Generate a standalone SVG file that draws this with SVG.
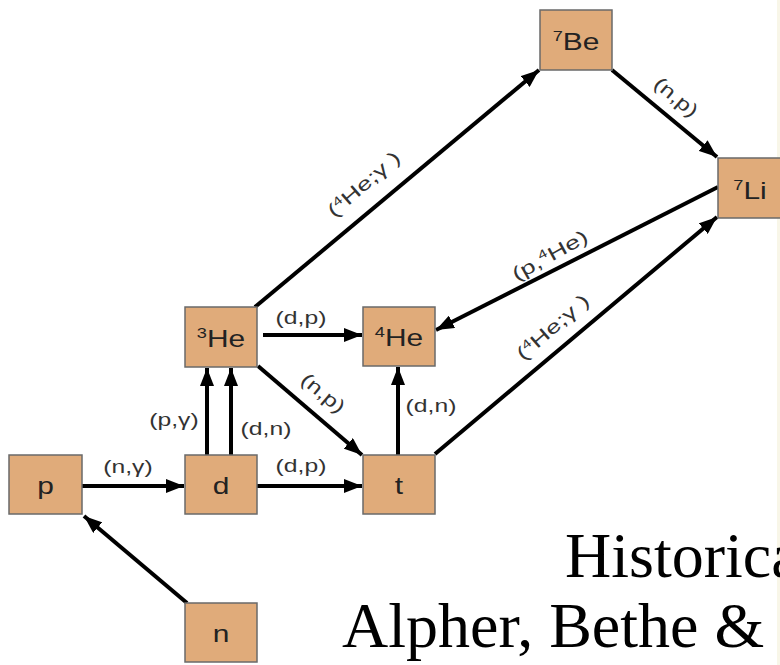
<svg xmlns="http://www.w3.org/2000/svg" width="780" height="665" viewBox="0 0 780 665">
<style>
.box{fill:#E0AB7A;stroke:#6a6a6a;stroke-width:1.5}
.nt{font-family:"Liberation Sans",Arial,sans-serif;font-size:23px;fill:#222;text-anchor:middle}
.sup{font-size:14px}
.lb{font-family:"Liberation Sans",Arial,sans-serif;font-size:19px;fill:#333;text-anchor:middle}
.ls{font-size:12px}
.ed{stroke:#000;stroke-width:4;fill:none;marker-end:url(#ah)}
.big{font-family:"Liberation Serif","Times New Roman",serif;font-size:64px;fill:#000}
</style>
<defs>
<marker id="ah" markerUnits="userSpaceOnUse" viewBox="0 0 18 14" refX="18" refY="7" markerWidth="18" markerHeight="14" orient="auto">
<path d="M0,0 L18,7 L0,14 z" fill="#000"/>
</marker>
</defs>
<rect width="780" height="665" fill="#fff"/>
<rect x="777" y="0" width="3" height="665" fill="#f8f6e8"/>
<g id="connectors">
<line class="ed" x1="82" y1="486" x2="184" y2="486"/>
<line class="ed" x1="187" y1="603" x2="84" y2="516"/>
<line class="ed" x1="257" y1="486" x2="362" y2="486"/>
<line class="ed" x1="207" y1="455" x2="207" y2="368"/>
<line class="ed" x1="231" y1="455" x2="231" y2="368"/>
<line class="ed" x1="263" y1="335" x2="362" y2="335"/>
<line class="ed" x1="258" y1="366" x2="362" y2="455"/>
<line class="ed" x1="398" y1="455" x2="398" y2="367"/>
<line class="ed" x1="255" y1="307" x2="539" y2="70"/>
<line class="ed" x1="612" y1="70" x2="717" y2="157"/>
<line class="ed" x1="718" y1="187" x2="436" y2="330"/>
<line class="ed" x1="435" y1="454" x2="717" y2="217"/>
<text class="lb" transform="translate(128,473) scale(1.3,1)">(n,γ)</text>
<text class="lb" transform="translate(301,472) scale(1.3,1)">(d,p)</text>
<text class="lb" transform="translate(301,324) scale(1.3,1)">(d,p)</text>
<text class="lb" transform="translate(174,426) scale(1.3,1)">(p,γ)</text>
<text class="lb" transform="translate(266,435) scale(1.3,1)">(d,n)</text>
<text class="lb" transform="translate(431,412) scale(1.3,1)">(d,n)</text>
<text class="lb" transform="translate(319,398) rotate(40) scale(1.3,1)">(n,p)</text>
<text class="lb" transform="translate(672,102) rotate(40) scale(1.3,1)">(n,p)</text>
<text class="lb" transform="translate(368,189) rotate(-41) scale(1.4,1)">(<tspan class="ls" dy="-7">4</tspan><tspan dy="7">He;γ )</tspan></text>
<text class="lb" transform="translate(553,261) rotate(-29) scale(1.4,1)">(p,<tspan class="ls" dy="-7">4</tspan><tspan dy="7">He)</tspan></text>
<text class="lb" transform="translate(557,332) rotate(-41) scale(1.4,1)">(<tspan class="ls" dy="-7">4</tspan><tspan dy="7">He;γ )</tspan></text>
</g>
<g id="node-p"><rect class="box" x="9" y="455" width="73" height="59"/><text class="nt" transform="translate(45.5,494) scale(1.3,1)">p</text></g>
<g id="node-d"><rect class="box" x="185" y="455" width="72" height="59"/><text class="nt" transform="translate(221,494) scale(1.3,1)">d</text></g>
<g id="node-t"><rect class="box" x="363" y="455" width="72" height="59"/><text class="nt" transform="translate(399,494) scale(1.3,1)">t</text></g>
<g id="node-n"><rect class="box" x="185" y="603" width="72" height="59"/><text class="nt" transform="translate(221,642) scale(1.3,1)">n</text></g>
<g id="node-he3"><rect class="box" x="185" y="307" width="72" height="60"/><text class="nt" transform="translate(221,347) scale(1.3,1)"><tspan class="sup" dy="-9">3</tspan><tspan dy="9">He</tspan></text></g>
<g id="node-he4"><rect class="box" x="363" y="307" width="72" height="59"/><text class="nt" transform="translate(399,346) scale(1.3,1)"><tspan class="sup" dy="-9">4</tspan><tspan dy="9">He</tspan></text></g>
<g id="node-be7"><rect class="box" x="540" y="10" width="72" height="60"/><text class="nt" transform="translate(576,50) scale(1.3,1)"><tspan class="sup" dy="-9">7</tspan><tspan dy="9">Be</tspan></text></g>
<g id="node-li7"><rect class="box" x="718" y="158" width="72" height="60"/><text class="nt" transform="translate(750,199) scale(1.3,1)"><tspan class="sup" dy="-9">7</tspan><tspan dy="9">Li</tspan></text></g>
<text class="big" x="565" y="577">Historica</text>
<text class="big" x="342" y="647">Alpher, Bethe &amp;</text>
</svg>
